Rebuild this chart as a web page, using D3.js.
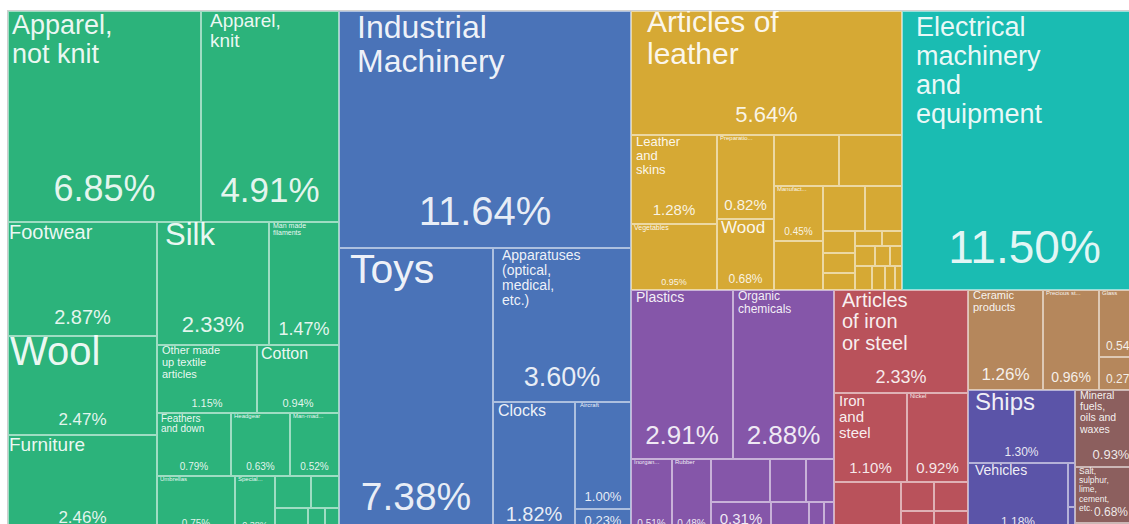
<!DOCTYPE html>
<html><head><meta charset="utf-8">
<script src="https://cdn.jsdelivr.net/npm/d3@7"></script>
<style>
html,body{margin:0;padding:0;background:#fff;overflow:hidden;}
svg{display:block;}
text{font-family:"Liberation Sans", Arial, Helvetica, sans-serif;}
</style></head><body>
<svg id="chart" width="1129" height="524"></svg>
<script>
// ---------- DATA: [product, share of exports %] ----------
const textiles = [
  ["Apparel, not knit", 6.85], ["Apparel, knit", 4.91], ["Footwear", 2.87], ["Wool", 2.47],
  ["Furniture", 2.46], ["Silk", 2.33], ["Man made filaments", 1.47],
  ["Other made up textile articles", 1.15], ["Cotton", 0.94], ["Feathers and down", 0.79],
  ["Headgear", 0.63], ["Man-made staple fibers", 0.52], ["Umbrellas", 0.75],
  ["Special woven fabrics", 0.38], ["", 0.19], ["", 0.15], ["", 0.14], ["", 0.07], ["", 0.06]
];
const machinery = [
  ["Industrial Machinery", 11.64], ["Toys", 7.38], ["Apparatuses (optical, medical, etc.)", 3.60],
  ["Clocks", 1.82], ["Aircraft", 1.00], ["Musical instruments", 0.23]
];
const leather = [
  ["Articles of leather", 5.64], ["Leather and skins", 1.28], ["Vegetables", 0.95],
  ["Preparations of vegetables", 0.82], ["Wood", 0.68], ["", 0.56], ["", 0.54],
  ["Manufactures of straw", 0.45], ["", 0.40], ["", 0.32], ["", 0.28],
  ["", 0.12], ["", 0.11], ["", 0.09], ["", 0.07], ["", 0.05],
  ["", 0.07], ["", 0.05], ["", 0.04], ["", 0.07], ["", 0.05], ["", 0.04], ["", 0.03]
];
const electrical = [["Electrical machinery and equipment", 11.50]];
const chemicals = [
  ["Plastics", 2.91], ["Organic chemicals", 2.88], ["Inorganic chemicals", 0.51], ["Rubber", 0.48],
  ["", 0.43], ["", 0.26], ["", 0.20], ["Tanning or dyeing extracts", 0.31], ["", 0.20], ["", 0.08], ["", 0.05]
];
const metals = [
  ["Articles of iron or steel", 2.33], ["Iron and steel", 1.10], ["Nickel", 0.92],
  ["", 0.58], ["", 0.16], ["", 0.12], ["", 0.17], ["", 0.13]
];
const stone = [["Ceramic products", 1.26], ["Precious stones", 0.96], ["Glass", 0.54], ["Stone articles", 0.27]];
const transport = [["Ships", 1.30], ["Vehicles", 1.18], ["", 0.05], ["", 0.03]];
const minerals = [["Mineral fuels, oils and waxes", 0.93], ["Salt, sulphur, lime, cement, etc.", 0.68], ["", 0.12]];

// ---------- LAYOUT NESTING (h = side by side, v = stacked) ----------
const Hz = (...k) => ({dir: "h", k});
const Vt = (...k) => ({dir: "v", k});
const textilesNest = Vt(Hz(0,1), Hz(Vt(2,3,4), Vt(Hz(5,6), Hz(7,8), Hz(9,10,11), Hz(12,13,Vt(Hz(14,15),Hz(16,17,18))))));
const machineryNest = Vt(0, Hz(1, Vt(2, Hz(3, Vt(4,5)))));
const leatherNest = Vt(0, Hz(Vt(1,2), Vt(3,4), Vt(Hz(5,6), Hz(Vt(7,8), Vt(Hz(9,10), Hz(Vt(11,12,13), Vt(Hz(14,15), Hz(16,17,18), Hz(19,20,21,22))))))));
const electricalNest = Vt(0);
const chemicalsNest = Vt(Hz(0,1), Hz(2,3,Vt(Hz(4,5,6), Hz(7,8,9,10))));
const metalsNest = Vt(0, Hz(1,2), Hz(3, Vt(4,5), Vt(6,7)));
const stoneNest = Hz(0,1,Vt(2,3));
const transportNest = Vt(0, Hz(1, Vt(2,3)));
const mineralsNest = Vt(0,1,2);

// ---------- STYLES ----------
const colors = {
  textiles: "#2cb37b", machinery: "#4a73b8", leather: "#d6a934", electrical: "#1abcb2",
  chemicals: "#8556a9", metals: "#b9525b", stone: "#b5875c", transport: "#5b54a8", minerals: "#8c5f5e"
};
// name -> [name font, percent font, x inset, wrap factor, baseline shift]
const labelStyle = {
  "Apparel, not knit": [27, 36, 4],
  "Apparel, knit": [19, 35, 9],
  "Footwear": [20, 20, 1],
  "Wool": [40, 17, 2, 0.6, -5],
  "Furniture": [19, 17, 1],
  "Silk": [31, 22, 8, 0.6, -3],
  "Man made filaments": [7, 18, 4, 0.55],
  "Other made up textile articles": [11, 11, 5, 0.62],
  "Cotton": [16, 11, 4],
  "Feathers and down": [10, 10, 4],
  "Headgear": [6, 10, 3],
  "Man-made staple fibers": [6, 10, 3],
  "Umbrellas": [6, 10, 3],
  "Special woven fabrics": [6, 9, 3],
  "Industrial Machinery": [32, 40, 18],
  "Toys": [41, 39, 11],
  "Apparatuses (optical, medical, etc.)": [14, 27, 9, 0.58],
  "Clocks": [16, 20, 5],
  "Aircraft": [6, 13, 5],
  "Musical instruments": [0, 13, 0],
  "Articles of leather": [30, 22, 16, 0.6, -5],
  "Electrical machinery and equipment": [27, 46, 14, 0.56, 2],
  "Leather and skins": [13, 15, 5],
  "Vegetables": [7, 9, 3],
  "Preparations of vegetables": [6, 15, 3],
  "Wood": [17, 12, 4],
  "Manufactures of straw": [6, 10, 3],
  "Plastics": [14, 26, 5],
  "Organic chemicals": [12, 26, 5],
  "Inorganic chemicals": [6, 10, 3],
  "Rubber": [6, 10, 3],
  "Tanning or dyeing extracts": [0, 15, 0],
  "Articles of iron or steel": [20, 18, 8, 0.58],
  "Iron and steel": [15, 15, 5],
  "Nickel": [6, 15, 3],
  "Ceramic products": [11, 17, 5],
  "Precious stones": [6, 14, 3],
  "Glass": [6, 12, 3],
  "Stone articles": [0, 12, 0],
  "Ships": [24, 12, 7],
  "Vehicles": [14, 12, 7],
  "Mineral fuels, oils and waxes": [10.5, 13, 5, 0.56],
  "Salt, sulphur, lime, cement, etc.": [8.5, 12, 4, 0.5]
};

// ---------- BUILD HIERARCHY ----------
function build(nest, arr, sector) {
  return {dir: nest.dir, children: nest.k.map(k =>
    typeof k === "number" ? {name: arr[k][0], value: arr[k][1], sector} : build(k, arr, sector))};
}
const tree = Hz(
  build(textilesNest, textiles, "textiles"),
  build(machineryNest, machinery, "machinery"),
  Vt(Hz(build(leatherNest, leather, "leather"), build(electricalNest, electrical, "electrical")),
     Hz(build(chemicalsNest, chemicals, "chemicals"), build(metalsNest, metals, "metals"),
        Vt(build(stoneNest, stone, "stone"), Hz(build(transportNest, transport, "transport"), build(mineralsNest, minerals, "minerals")))))
);
function toTree(n) {
  if (n.k) return {dir: n.dir, children: n.k.map(toTree)};
  if (n.children) return {dir: n.dir, children: n.children.map(toTree)};
  return n;
}
const rootData = toTree(tree);

const X0 = 8, Y0 = 11, X1 = 1147, Y1 = 533;
const root = d3.hierarchy(rootData, d => d.children).sum(d => d.children ? 0 : d.value);
d3.treemap()
  .tile((node, x0, y0, x1, y1) => (node.data.dir === "h" ? d3.treemapDice : d3.treemapSlice)(node, x0, y0, x1, y1))
  .size([X1 - X0, Y1 - Y0])
  .round(true)(root);

const svg = d3.select("#chart");
svg.append("defs").append("clipPath").attr("id", "area")
  .append("rect").attr("x", 0).attr("y", 0).attr("width", X1 - X0).attr("height", Y1 - Y0);
const g = svg.append("g").attr("transform", `translate(${X0},${Y0})`).attr("clip-path", "url(#area)");
const leaves = root.leaves();

g.selectAll("rect.cell").data(leaves).join("rect")
  .attr("class", "cell")
  .attr("x", d => d.x0).attr("y", d => d.y0)
  .attr("width", d => d.x1 - d.x0).attr("height", d => d.y1 - d.y0)
  .attr("fill", d => colors[d.data.sector]);
g.selectAll("rect.edge").data(leaves).join("rect")
  .attr("class", "edge")
  .attr("x", d => d.x0 + 0.5).attr("y", d => d.y0 + 0.5)
  .attr("width", d => Math.max(0, d.x1 - d.x0 - 1)).attr("height", d => Math.max(0, d.y1 - d.y0 - 1))
  .attr("fill", "none").attr("stroke", "rgba(255,255,255,0.55)").attr("stroke-width", 1);
svg.append("rect").attr("x", X0 - 0.5).attr("y", Y0 - 0.5).attr("width", X1 - X0 + 1).attr("height", Y1 - Y0 + 1)
  .attr("fill", "none").attr("stroke", "#cfcfcf");

const ctx = document.createElement("canvas").getContext("2d");
function tw(s, fs) { ctx.font = `${fs}px "Liberation Sans", Arial, sans-serif`; return ctx.measureText(s).width; }
function wrap(text, fs, maxW) {
  const words = text.split(" "); const lines = []; let cur = "";
  words.forEach(w => {
    const t = cur ? cur + " " + w : w;
    if (!cur || tw(t, fs) <= maxW) cur = t; else { lines.push(cur); cur = w; }
  });
  if (cur) lines.push(cur);
  return lines;
}
function truncate(text, fs, maxW) {
  if (tw(text, fs) <= maxW) return text;
  let t = text;
  while (t.length > 1 && tw(t + "...", fs) > maxW) t = t.slice(0, -1);
  return t + "...";
}

leaves.forEach(d => {
  const st = labelStyle[d.data.name];
  if (!st) return;
  const [nfs, pfs, dx, wf = 0.6, shift = 0] = st;
  const w = d.x1 - d.x0;
  if (nfs > 0) {
    let lines;
    if (nfs <= 6) lines = [truncate(d.data.name, nfs, Math.max(w * 0.62, 20))];
    else lines = wrap(d.data.name, nfs, w * wf);
    const t = g.append("text").attr("fill", "#fff").attr("fill-opacity", 0.92)
      .attr("font-size", nfs + "px");
    lines.forEach((ln, i) => t.append("tspan").attr("x", d.x0 + dx)
      .attr("y", d.y0 + 0.85 * nfs + shift + i * 1.07 * nfs).text(ln));
  }
  g.append("text").attr("fill", "#fff").attr("fill-opacity", 0.88)
    .attr("font-size", pfs + "px").attr("text-anchor", "middle")
    .attr("x", (d.x0 + d.x1) / 2).attr("y", d.y1 - 0.58 * pfs)
    .text(d.data.value.toFixed(2) + "%");
});
</script>
</body></html>
